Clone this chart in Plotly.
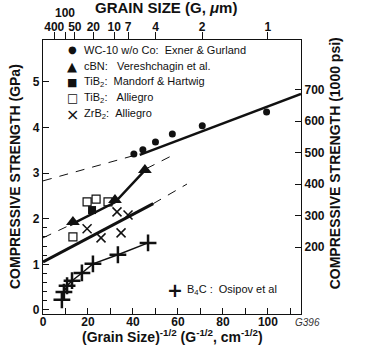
import plotly.graph_objects as go

# ---- data ----
wc_x = [40.4, 44.4, 50.0, 57.5, 70.8, 99.4]
wc_y = [3.42, 3.51, 3.68, 3.86, 4.04, 4.34]

cbn_x = [13.3, 32.0, 45.3]
cbn_y = [1.93, 2.41, 3.07]

tib2_mh_x = [21.8]
tib2_mh_y = [2.19]

tib2_al_x = [13.3, 19.6, 23.6, 28.9]
tib2_al_y = [1.60, 2.37, 2.43, 2.37]

zrb2_x = [19.6, 25.8, 32.9, 34.7, 37.8]
zrb2_y = [1.78, 1.58, 2.15, 1.69, 2.08]

b4c_x = [8.4, 9.3, 10.7, 12.9, 17.3, 22.2, 33.3, 46.7]
b4c_y = [0.22, 0.39, 0.53, 0.64, 0.81, 1.01, 1.21, 1.47]

# fitted / extrapolated lines
wc_fit_x = [43, 114.7]
wc_fit_y = [3.40, 4.74]
wc_ext_x = [0, 40]
wc_ext_y = [2.83, 3.38]

cbn_fit_x = [12, 32, 46]
cbn_fit_y = [1.86, 2.36, 3.10]
cbn_ext_l_x = [0, 12]
cbn_ext_l_y = [1.58, 1.86]
cbn_ext_r_x = [46, 58]
cbn_ext_r_y = [3.10, 3.40]

zrb2_fit_x = [0, 49]
zrb2_fit_y = [1.05, 2.33]
zrb2_ext_x = [49, 64]
zrb2_ext_y = [2.33, 2.76]

# legend texts
sp = "\u00a0"
legend_symbols = ["\u25cf", "\u25b2", "\u25a0", "\u25a1", "\u00d7"]
legend_symbol_sizes = [10, 13, 11, 12, 16]
legend_labels = [
    "WC-10 w/o Co:" + sp * 2 + "Exner & Gurland",
    "cBN:" + sp * 3 + "Vereshchagin et al.",
    "TiB<sub>2</sub>:" + sp * 2 + "Mandorf & Hartwig",
    "TiB<sub>2</sub>:" + sp * 3 + "Alliegro",
    "ZrB<sub>2</sub>:" + sp * 2 + "Alliegro",
]
b4c_label = "B<sub>4</sub>C :" + sp * 2 + "Osipov et al"

# axes
x_ticks = [0, 20, 40, 60, 80, 100]
y_ticks = [0, 1, 2, 3, 4, 5]
y_minor = [0.2, 0.4, 0.6, 0.8, 1.2, 1.4, 1.6, 1.8]
ksi_ticks = [200, 300, 400, 500, 600, 700]
grain_um = [400, 100, 50, 20, 10, 7, 4, 2, 1]
grain_lbl = ["400", "", "50", "20", "10", "7", "4", "2", "1"]
raised_grain = 100          # its label sits one row higher

X_RANGE = [0, 114.7]
Y_RANGE = [-0.09, 5.92]
GPA_PER_KSI = 0.006895

FONT = "Liberation Sans, Arial, sans-serif"
BLACK = "#111111"

fig = go.Figure()

dash_style = dict(color=BLACK, width=1, dash="9px,8px")

def line(x, y, width=2.5, dash=False):
    d = dash_style if dash else dict(color=BLACK, width=width)
    fig.add_trace(go.Scatter(x=x, y=y, mode="lines", line=d, showlegend=False,
                             hoverinfo="skip"))

line(wc_fit_x, wc_fit_y, 2.5)
line(wc_ext_x, wc_ext_y, dash=True)
line(cbn_fit_x, cbn_fit_y, 2.5)
line(cbn_ext_l_x, cbn_ext_l_y, dash=True)
line(cbn_ext_r_x, cbn_ext_r_y, dash=True)
line(zrb2_fit_x, zrb2_fit_y, 3)
line(zrb2_ext_x, zrb2_ext_y, dash=True)
line(b4c_x, b4c_y, 1.5)

fig.add_trace(go.Scatter(x=wc_x, y=wc_y, mode="markers", showlegend=False,
                         marker=dict(symbol="circle", size=7, color=BLACK)))
fig.add_trace(go.Scatter(x=cbn_x, y=cbn_y, mode="markers", showlegend=False,
                         marker=dict(symbol="triangle-up", size=12, color=BLACK)))
fig.add_trace(go.Scatter(x=tib2_mh_x, y=tib2_mh_y, mode="markers", showlegend=False,
                         marker=dict(symbol="square", size=8, color=BLACK)))
fig.add_trace(go.Scatter(x=tib2_al_x, y=tib2_al_y, mode="markers", showlegend=False,
                         marker=dict(symbol="square-open", size=8, color=BLACK,
                                     line=dict(width=1.2, color=BLACK))))
fig.add_trace(go.Scatter(x=zrb2_x, y=zrb2_y, mode="markers", showlegend=False,
                         marker=dict(symbol="x-thin-open", size=9, color=BLACK,
                                     line=dict(width=1.5, color=BLACK))))
fig.add_trace(go.Scatter(x=b4c_x, y=b4c_y, mode="markers", showlegend=False,
                         marker=dict(symbol="cross-thin-open", size=12, color=BLACK,
                                     line=dict(width=2.5, color=BLACK))))

# invisible traces to activate secondary axes
fig.add_trace(go.Scatter(x=[None], y=[None], xaxis="x2", yaxis="y", showlegend=False))
fig.add_trace(go.Scatter(x=[None], y=[None], xaxis="x", yaxis="y2", showlegend=False))
fig.add_trace(go.Scatter(x=[None], y=[None], xaxis="x", yaxis="y3", showlegend=False))

tickfont = dict(family=FONT, size=12, color=BLACK, weight="bold")

fig.update_layout(
    width=374, height=348,
    margin=dict(l=43, r=73, t=40, b=34, autoexpand=False),
    paper_bgcolor="white", plot_bgcolor="white",
    font=dict(family=FONT, color=BLACK),
    showlegend=False,
    xaxis=dict(range=X_RANGE, tickvals=x_ticks, ticks="inside", ticklen=6,
               tickcolor=BLACK, tickwidth=1, showgrid=False, zeroline=False,
               showline=True, linecolor=BLACK, linewidth=1.2, tickangle=0,
               automargin=False, tickfont=tickfont, ticklabelstandoff=-4,
               minor=dict(dtick=10, ticks="inside", ticklen=6, tickcolor=BLACK)),
    xaxis2=dict(range=X_RANGE, overlaying="x", side="top",
                tickvals=[100 / g ** 0.5 for g in grain_um], ticktext=grain_lbl,
                ticks="outside", ticklen=7, tickcolor=BLACK, showgrid=False,
                zeroline=False, showline=True, linecolor=BLACK, linewidth=1.2,
                tickangle=0, automargin=False, tickfont=tickfont,
                ticklabelstandoff=-4),
    yaxis=dict(range=Y_RANGE, tickvals=y_ticks, ticks="inside", ticklen=6,
               tickcolor=BLACK, showgrid=False, zeroline=False, showline=True,
               linecolor=BLACK, linewidth=1.2, automargin=False, tickfont=tickfont),
    yaxis2=dict(range=[Y_RANGE[0] / GPA_PER_KSI, Y_RANGE[1] / GPA_PER_KSI],
                overlaying="y", side="right", tickvals=ksi_ticks, ticks="inside",
                ticklen=6, tickcolor=BLACK, showgrid=False, zeroline=False,
                showline=True, linecolor=BLACK, linewidth=1.2, automargin=False,
                tickfont=tickfont),
    yaxis3=dict(range=Y_RANGE, overlaying="y", side="left", tickvals=y_minor,
                ticks="inside", ticklen=4, tickcolor=BLACK, showticklabels=False,
                showgrid=False, zeroline=False, showline=False, automargin=False),
)

# raised top-axis label
fig.add_annotation(text=str(raised_grain), xref="x", yref="paper",
                   x=100 / raised_grain ** 0.5, y=1, yshift=27, xanchor="center",
                   yanchor="middle", showarrow=False, font=tickfont)

# legend as text rows (plot area: 43..301 px wide, 40..314 px tall)
PW, PH, TOP = 258.0, 274.0, 40.0
for i, (sym, ssz, lab) in enumerate(zip(legend_symbols, legend_symbol_sizes, legend_labels)):
    py = 50 + 16 * i
    yp = 1 - (py - TOP) / PH
    fig.add_annotation(text=sym, xref="paper", yref="paper", x=(72 - 43) / PW, y=yp,
                       xanchor="center", yanchor="middle", showarrow=False,
                       font=dict(family="DejaVu Sans", size=ssz, color=BLACK))
    fig.add_annotation(text=lab, xref="paper", yref="paper", x=(82 - 43) / PW, y=yp,
                       xanchor="left", yanchor="middle", showarrow=False,
                       font=dict(family=FONT, size=11, color=BLACK))

b4c_py = 290
fig.add_annotation(text="<b>+</b>", xref="paper", yref="paper", x=(175 - 43) / PW,
                   y=1 - (b4c_py - TOP) / PH, xanchor="center", yanchor="middle",
                   showarrow=False, font=dict(family="DejaVu Sans", size=19, color=BLACK))
fig.add_annotation(text=b4c_label, xref="paper", yref="paper", x=(185 - 43) / PW,
                   y=1 - (b4c_py - TOP) / PH, xanchor="left", yanchor="middle",
                   showarrow=False, font=dict(family=FONT, size=11, color=BLACK))

fig.add_annotation(text="<b>GRAIN SIZE (G, <i>\u03bc</i>m)</b>", xref="paper", yref="paper",
                   x=0.475, y=1, yshift=33, xanchor="center", yanchor="middle",
                   showarrow=False, font=dict(family=FONT, size=15, color=BLACK))
fig.add_annotation(text="<b>COMPRESSIVE STRENGTH (GPa)</b>", xref="paper", yref="paper",
                   x=0, xshift=-28, y=0.5, textangle=-90, xanchor="center",
                   yanchor="middle", showarrow=False,
                   font=dict(family=FONT, size=14, color=BLACK))
fig.add_annotation(text="<b>COMPRESSIVE STRENGTH (1000 psi)</b>", xref="paper", yref="paper",
                   x=1, xshift=34, y=0.55, textangle=-90, xanchor="center",
                   yanchor="middle", showarrow=False,
                   font=dict(family=FONT, size=14, color=BLACK))
fig.add_annotation(text="<b>(Grain Size)<sup>-1/2</sup> (G<sup>-1/2</sup>, cm<sup>-1/2</sup>)</b>",
                   xref="paper", yref="paper", x=0.5, y=0, yshift=-22,
                   xanchor="center", yanchor="middle", showarrow=False,
                   font=dict(family=FONT, size=14, color=BLACK))
fig.add_annotation(text="<i>G396</i>", xref="paper", yref="paper", x=1, y=0,
                   xshift=-8, yshift=-8, xanchor="left", yanchor="middle",
                   showarrow=False, font=dict(family=FONT, size=10, color="#333333"))

fig.write_html("out.html")
